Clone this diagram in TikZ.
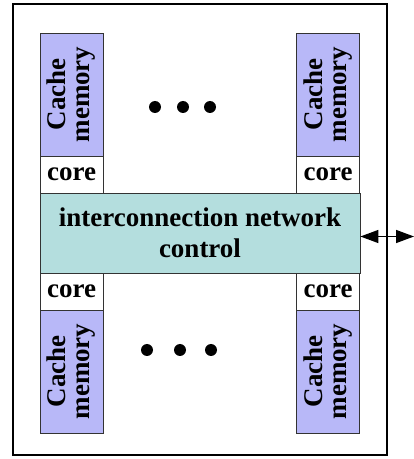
\documentclass[tikz,border=0pt]{standalone}
\usepackage{fontspec}
\setmainfont{Liberation Serif}
\usetikzlibrary{arrows.meta}
\definecolor{cachefill}{RGB}{184,184,248}
\definecolor{netfill}{RGB}{180,222,222}
\begin{document}
\begin{tikzpicture}[x=1pt,y=1pt,
  box/.style={draw=black!80,line width=0.8pt,inner sep=0pt,font=\bfseries\fontsize{27}{31}\selectfont},
  cachebox/.style={box,fill=cachefill,minimum width=63,minimum height=123},
  cachetext/.style={rotate=90,align=center,inner sep=0pt,font=\bfseries\fontsize{27}{24}\selectfont},
  corebox/.style={box,fill=white,minimum width=63,minimum height=37},
  dot/.style={circle,fill=black,inner sep=0pt,minimum size=12},
  biarrow/.style={line width=1.4pt,{Stealth[length=18pt,width=13pt,inset=0pt]}-{Stealth[length=18pt,width=13pt,inset=0pt]}}]
\useasboundingbox (0,0) rectangle (414,459);
\node[draw,line width=1.2pt,minimum width=374,minimum height=451,inner sep=0pt] (outer) at (200,229.5) {};
% top
\node[cachebox] (c1) at (71.5,364.5) {};
\node[cachetext] (t1) at (c1.center) {Cache\\memory};
\node[corebox] (k1) at (71.5,284.5) {core};
\node[cachebox] (c2) at (328,364.5) {};
\node[cachetext] (t2) at (c2.center) {Cache\\memory};
\node[corebox] (k2) at (328,284.5) {core};
% network
\node[box,fill=netfill,minimum width=320,minimum height=80,align=center] (net) at (200,226) {interconnection network\\control};
% bottom
\node[corebox] (k3) at (71.5,167.5) {core};
\node[cachebox] (c3) at (71.5,87.5) {};
\node[cachetext] (t3) at (c3.center) {Cache\\memory};
\node[corebox] (k4) at (328,167.5) {core};
\node[cachebox] (c4) at (328,87.5) {};
\node[cachetext] (t4) at (c4.center) {Cache\\memory};
% dots
\node[dot] (d1) at (155,352) {};
\node[dot] (d2) at (183,352) {};
\node[dot] (d3) at (210,352) {};
\node[dot] (d4) at (147,109) {};
\node[dot] (d5) at (180,109) {};
\node[dot] (d6) at (211,109) {};
% arrow
\coordinate (ext) at (414,222.5);
\draw[biarrow] (net.east |- ext) -- (ext);
\end{tikzpicture}
\end{document}
